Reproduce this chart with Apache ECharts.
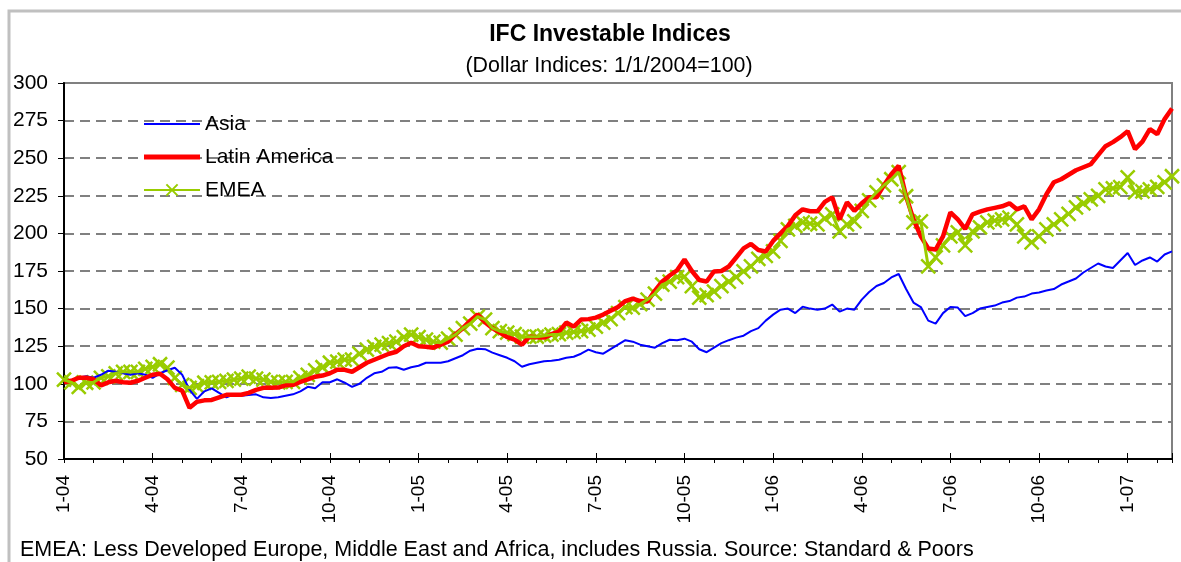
<!DOCTYPE html>
<html>
<head>
<meta charset="utf-8">
<script src="https://cdn.jsdelivr.net/npm/echarts@6/dist/echarts.min.js"></script>
<style>
  html, body { margin: 0; padding: 0; background: #fff; }
  #chart { width: 1181px; height: 562px; }
</style>
</head>
<body>
<div id="chart"></div>
<script>
// quarter-month sample points starting 1 Jan 2004 (x = months since 1-04)
var tickLabels = ['1-04', '4-04', '7-04', '10-04', '1-05', '4-05', '7-05', '10-05', '1-06', '4-06', '7-06', '10-06', '1-07'];

var asia = [
    102, 102, 104, 105, 104, 106, 108.7, 108, 107, 106, 107, 106,
    104, 107, 109, 110.7, 106, 96, 90, 95, 97, 94, 91, 93,
    92, 92.5, 93, 91, 90.5, 91, 92, 93, 95, 98, 97, 101,
    101, 103, 100.7, 98, 100, 104, 107, 108, 110.7, 111, 109.3, 111,
    112, 114, 114, 114, 115, 117, 119, 122, 123.3, 123, 120.7, 119,
    117.3, 115, 111.3, 113, 114, 115, 115.3, 116, 117.3, 118, 120, 122.7,
    121, 120, 123, 126, 129, 128, 126, 125, 124, 127, 129.3, 129,
    130, 128, 123, 121, 124, 127, 129, 130.7, 132, 135, 137, 142,
    146, 149.3, 150, 147, 151.3, 150, 149.3, 150, 152.7, 148, 150, 149.3,
    156, 161, 165, 167, 170.7, 173, 163, 154, 151, 142, 140, 147,
    151, 150.7, 145, 147, 150, 151, 152, 154, 155, 157.3, 158, 160,
    160.7, 162, 163, 166, 168, 170, 174, 177, 180, 178, 177, 182,
    187, 179, 182, 184, 181.3, 186, 188
];

var latinAmerica = [
    101, 102, 104, 104, 103, 99, 101, 102, 101, 100.7, 102, 104,
    106, 106.7, 103, 97.3, 95.5, 84, 88, 89, 89.3, 91, 92.7, 92.7,
    92.7, 94, 96, 97.3, 97.3, 97.5, 99, 99.3, 101.3, 103, 104.7, 105.5,
    107, 109.3, 109.3, 108, 111, 114, 116, 118, 120, 121.3, 125, 127.3,
    125, 124.7, 124, 126, 128, 133, 137, 142, 146, 141, 137, 134,
    131, 129.3, 126, 131.3, 131, 130.7, 133, 134.7, 140.7, 138, 142.7, 143,
    144, 146, 148.5, 151, 155, 156.7, 155, 154.7, 162, 168, 172, 175.5,
    182.7, 175, 169, 168, 174.7, 175, 178, 184, 190, 193, 189, 188,
    195, 200, 205, 212, 216, 214.7, 214.7, 221, 224, 209.3, 220.7, 215,
    220, 224, 224, 232, 239.3, 245, 224.7, 209.3, 198, 190, 189.3, 198,
    214, 209.3, 203, 212.7, 214.5, 216, 217, 218, 220, 216, 218, 209.3,
    216, 226, 234, 236, 239, 242, 244, 246, 252, 258, 260.7, 264,
    268, 256, 261, 269.3, 266, 276, 283
];

var emea = [
    102.7, 101, 98, 100.7, 101, 104, 105, 107, 108, 108, 108, 110,
    111.3, 113, 110.7, 104, 99.3, 97.3, 98.5, 100.7, 101, 101.3, 102, 102.7,
    103.5, 104.7, 103.5, 102.7, 101.3, 101, 101.3, 101.3, 104, 106, 109, 111,
    114, 114.7, 116, 116, 120, 122.7, 124.5, 126, 127, 128, 131, 132.7,
    131, 129.3, 128, 127.3, 130, 132.7, 137, 140, 144.7, 142.7, 137, 135,
    134, 133, 131.3, 131.3, 131.3, 132, 132.7, 133, 134, 134.5, 135, 136,
    138, 140.7, 143, 147, 151, 150.7, 153, 156, 160, 166, 168, 171,
    171.3, 165, 157.3, 159, 161.3, 165, 168, 171, 174.7, 178, 183, 185,
    188, 195, 202.7, 205, 207.3, 206.5, 206, 210, 212.7, 201.3, 206, 208,
    215, 222, 227.3, 232, 236, 240.7, 224.7, 207.3, 208, 178, 184, 192,
    198, 200.7, 192, 201.3, 204, 207.3, 208.5, 209.3, 210.5, 206, 198, 194,
    198, 202.7, 206, 209.3, 213, 217.3, 220, 222.7, 225, 229.3, 230, 230.7,
    237.3, 227.3, 228, 229.3, 231, 234, 238
];

function toPoints(arr) {
    return arr.map(function (v, i) { return [i * 0.25, v]; });
}

// legend icons: thin bar centred in a 56x14 box (tiny corner dots fix the box)
function barIcon(h) {
    var y0 = 7 - h / 2, y1 = 7 + h / 2;
    return 'path://M0,0L0.01,0L0,0.01Z M0,' + y0 + 'L56,' + y0 + 'L56,' + y1 + 'L0,' + y1 + 'Z M56,14L55.99,14L56,13.99Z';
}

var crossMark = 'path://M0,0L10,10M10,0L0,10';
var green = '#99CC00';
var font = 'Arial, "Liberation Sans", sans-serif';
var chart = echarts.init(document.getElementById('chart'));

chart.setOption({
    animation: false,
    backgroundColor: '#fff',
    textStyle: { fontFamily: font, color: '#000' },
    grid: {
        left: 64, top: 83, right: 9, bottom: 103,
        show: true, borderColor: '#808080', borderWidth: 2,
        containLabel: false, outerBoundsMode: 'none'
    },
    legend: {
        orient: 'vertical',
        left: 143, top: 113.5, padding: 0,
        itemWidth: 56, itemHeight: 14, itemGap: 12,
        textStyle: { fontFamily: font, fontSize: 21, color: '#000', lineHeight: 20 },
        data: [
            { name: 'Asia', icon: barIcon(2) },
            { name: 'Latin America', icon: barIcon(5) },
            { name: 'EMEA' }
        ]
    },
    xAxis: [{
        type: 'value',
        min: 0, max: 37.5, interval: 1,
        axisLine: { lineStyle: { color: '#000', width: 2 } },
        axisTick: { show: true, length: 4, lineStyle: { color: '#000', width: 1 } },
        axisLabel: {
            rotate: 90, margin: 16, fontSize: 19, color: '#000', fontFamily: font,
            formatter: function (v) {
                return (v % 3 === 0) ? (tickLabels[v / 3] || '') : '';
            }
        },
        splitLine: { show: false }
    }, {
        type: 'value',
        min: 0, max: 37.5, interval: 3,
        position: 'bottom',
        axisLine: { show: false },
        axisTick: { show: true, inside: true, length: 6, lineStyle: { color: '#000', width: 1 } },
        axisLabel: { show: false },
        splitLine: { show: false }
    }],
    yAxis: {
        type: 'value',
        min: 50, max: 300, interval: 25,
        axisLine: { show: true, lineStyle: { color: '#000', width: 2 } },
        axisTick: { show: true, length: 6, lineStyle: { color: '#000', width: 1 } },
        axisLabel: { margin: 16, fontSize: 21, color: '#000', fontFamily: font },
        splitLine: { lineStyle: { color: '#808080', width: 2, type: [10, 6] } }
    },
    series: [{
        name: 'Asia',
        type: 'line',
        data: toPoints(asia),
        symbol: 'none',
        color: '#0000FF',
        lineStyle: { color: '#0000FF', width: 2 }
    }, {
        name: 'Latin America',
        type: 'line',
        data: toPoints(latinAmerica),
        symbol: 'none',
        color: '#FF0000',
        lineStyle: { color: '#FF0000', width: 4.5 }
    }, {
        name: 'EMEA',
        type: 'line',
        data: toPoints(emea),
        symbol: crossMark,
        symbolSize: 11,
        showSymbol: false,
        color: green,
        itemStyle: { color: green, borderColor: green, borderWidth: 2.5 },
        lineStyle: { color: green, width: 3 }
    }, {
        name: 'EMEA',
        type: 'scatter',
        data: toPoints(emea),
        symbol: crossMark,
        symbolSize: 14,
        color: green,
        itemStyle: { color: green, borderColor: green, borderWidth: 2.5, opacity: 1 }
    }],
    graphic: [{
        type: 'rect',
        shape: { x: 9, y: 11, width: 1200, height: 600 },
        style: { fill: 'none', stroke: '#c0c0c0', lineWidth: 3 },
        silent: true, z: -10
    }, {
        type: 'text',
        x: 610, y: 35,
        style: { text: 'IFC Investable Indices', font: 'bold 23px ' + font, fill: '#000', align: 'center', verticalAlign: 'middle' }
    }, {
        type: 'text',
        x: 609, y: 66,
        style: { text: '(Dollar Indices: 1/1/2004=100)', font: '21.4px ' + font, fill: '#000', align: 'center', verticalAlign: 'middle' }
    }, {
        type: 'text',
        x: 20, y: 550,
        style: { text: 'EMEA: Less Developed Europe, Middle East and Africa, includes Russia. Source: Standard & Poors', font: '21.5px ' + font, fill: '#000', verticalAlign: 'middle' }
    }]
});
</script>
</body>
</html>
